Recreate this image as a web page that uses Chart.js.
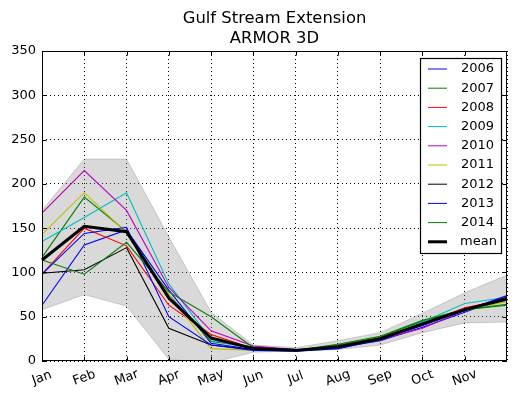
<!DOCTYPE html>
<html>
<head>
<meta charset="utf-8">
<script src="https://cdn.jsdelivr.net/npm/chart.js@4.4.1/dist/chart.umd.min.js"></script>
<style>
  html, body { margin: 0; padding: 0; background: #fff; }
</style>
</head>
<body>
<canvas id="c" width="516" height="400"></canvas>
<script>
// month categories (only Jan..Nov get a tick label, as in the original)
const months = ['Jan', 'Feb', 'Mar', 'Apr', 'May', 'Jun', 'Jul', 'Aug', 'Sep', 'Oct', 'Nov', 'Dec'];
const labelledMonths = 11;
const titleLines = ['Gulf Stream Extension', 'ARMOR 3D'];

const years = ['2006', '2007', '2008', '2009', '2010', '2011', '2012', '2013', '2014'];
const yearColors = ['#0000ff', '#008000', '#ff0000', '#00bfbf', '#bf00bf', '#bfbf00', '#000000', '#0000ff', '#008000'];

const y2006 = [63, 131, 148, 80, 20, 13, 12, 15, 23, 38, 55, 73];
const y2007 = [117, 185, 146, 75, 22, 16, 12, 18, 27, 45, 58, 64];
const y2008 = [98, 150, 130, 63, 30, 14, 12, 17, 26, 42, 60, 70];
const y2009 = [135, 162, 190, 87, 24, 13, 11, 14, 24, 44, 65, 72];
const y2010 = [167, 215, 170, 83, 34, 17, 13, 15, 24, 37, 57, 70];
const y2011 = [143, 190, 145, 75, 14, 12, 12, 17, 25, 40, 58, 67];
const y2012 = [99, 103, 128, 37, 18, 13, 12, 16, 26, 42, 58, 72];
const y2013 = [98, 144, 151, 50, 18, 12, 11, 14, 24, 40, 57, 74];
const y2014 = [114, 98, 134, 78, 50, 15, 12, 19, 28, 46, 58, 63];
const yearValues = [y2006, y2007, y2008, y2009, y2010, y2011, y2012, y2013, y2014];

const meanValues = [114, 152, 146, 71, 26, 14, 12, 16, 25, 42, 58, 70];
const bandUpper = [170, 228, 228, 140, 55, 18, 15, 23, 32, 54, 77, 97];
const bandLower = [58, 75, 62, 2, -2, 10, 11, 13, 18, 32, 43, 44];

const yMin = 0, yMax = 350, yStep = 50;

const FONT = "'DejaVu Sans', 'Liberation Sans', sans-serif";

const datasets = [];
datasets.push({
    label: 'mean', data: meanValues, borderColor: '#000', borderWidth: 3,
    pointRadius: 0, fill: false, order: 0
});
years.forEach((y, i) => {
    datasets.push({
        label: y, data: yearValues[i], borderColor: yearColors[i], borderWidth: 1.1,
        pointRadius: 0, fill: false, order: 10 - i
    });
});
datasets.push({
    label: 'upper', data: bandUpper, borderColor: 'rgba(128,128,128,0.35)', borderWidth: 1,
    backgroundColor: 'rgba(128,128,128,0.3)', pointRadius: 0, fill: '+1', order: 20
});
datasets.push({
    label: 'lower', data: bandLower, borderColor: 'rgba(128,128,128,0.35)', borderWidth: 1,
    pointRadius: 0, fill: false, order: 21
});

// title, frame, inward ticks, rotated month labels and boxed legend
const decorations = {
    id: 'decorations',
    afterDatasetsDraw(chart) {
        const ctx = chart.ctx, a = chart.chartArea;
        const xs = chart.scales.x, ys = chart.scales.y;
        const l = Math.round(a.left) + 0.5, r = Math.round(a.right) - 0.5;
        const t = Math.round(a.top) + 0.5, b = Math.round(a.bottom) - 0.5;
        ctx.save();
        ctx.strokeStyle = '#000';
        ctx.lineWidth = 1;
        ctx.beginPath();
        for (let v = yMin; v <= yMax; v += yStep) {
            const py = Math.round(ys.getPixelForValue(v)) + 0.5;
            ctx.moveTo(l, py); ctx.lineTo(l + 4, py);
            ctx.moveTo(r, py); ctx.lineTo(r - 4, py);
        }
        for (let i = 0; i < labelledMonths; i++) {
            const px = Math.round(xs.getPixelForValue(i)) + 0.5;
            ctx.moveTo(px, b); ctx.lineTo(px, b - 4);
            ctx.moveTo(px, t); ctx.lineTo(px, t + 4);
        }
        ctx.stroke();
        ctx.strokeRect(l, t, r - l, b - t);
        ctx.restore();
    },
    afterDraw(chart) {
        const ctx = chart.ctx, a = chart.chartArea;
        const xs = chart.scales.x;
        ctx.save();
        ctx.fillStyle = '#000';

        // title centred over the axes
        ctx.font = '16.4px ' + FONT;
        ctx.textAlign = 'center';
        ctx.textBaseline = 'middle';
        const cx = (a.left + a.right) / 2;
        ctx.fillText(titleLines[0], cx, 19);
        ctx.fillText(titleLines[1], cx, 39);

        ctx.font = '13px ' + FONT;
        for (let i = 0; i < labelledMonths; i++) {
            ctx.save();
            ctx.translate(xs.getPixelForValue(i), a.bottom + 17);
            ctx.rotate(-20 * Math.PI / 180);
            ctx.fillText(months[i], 0, 0);
            ctx.restore();
        }

        // legend
        const entries = chart.data.datasets.filter(d => d.label !== 'upper' && d.label !== 'lower');
        const ordered = entries.filter(d => d.label !== 'mean').concat(entries.filter(d => d.label === 'mean'));
        const bx = 420.5, by = 58.5, bw = 81, bh = 195;
        ctx.fillStyle = '#fff';
        ctx.fillRect(bx, by, bw, bh);
        ctx.strokeStyle = '#000';
        ctx.lineWidth = 1.2;
        ctx.strokeRect(bx, by, bw, bh);
        ctx.textAlign = 'left';
        ordered.forEach((d, i) => {
            const ly = 69 + i * 19.2;
            ctx.strokeStyle = d.borderColor;
            ctx.lineWidth = d.label === 'mean' ? 3 : 1;
            ctx.beginPath();
            ctx.moveTo(428, ly); ctx.lineTo(447, ly);
            ctx.stroke();
            ctx.fillStyle = '#000';
            ctx.fillText(d.label, d.label === 'mean' ? 460 : 461, ly);
        });
        ctx.restore();
    }
};

new Chart(document.getElementById('c').getContext('2d'), {
    type: 'line',
    data: { labels: months, datasets: datasets },
    plugins: [decorations],
    options: {
        responsive: false,
        animation: false,
        devicePixelRatio: 1,
        layout: { padding: { right: 9, left: 0, top: 51, bottom: 0 } },
        elements: { line: { tension: 0 } },
        plugins: {
            legend: { display: false },
            tooltip: { enabled: false },
            title: { display: false },
            filler: { propagate: false }
        },
        scales: {
            x: {
                type: 'category',
                offset: false,
                grid: { offset: false, color: '#000', lineWidth: 1, drawTicks: false },
                border: { display: false, dash: [1, 3] },
                ticks: { display: false },
                afterFit(scale) { scale.height = 39; }
            },
            y: {
                min: yMin, max: yMax,
                grid: { color: '#000', lineWidth: 1, drawTicks: false },
                border: { display: false, dash: [1, 3] },
                ticks: {
                    stepSize: yStep, padding: 6, color: '#000',
                    font: { family: FONT, size: 13 }
                },
                afterFit(scale) { scale.width = 42; }
            }
        }
    }
});
</script>
</body>
</html>
